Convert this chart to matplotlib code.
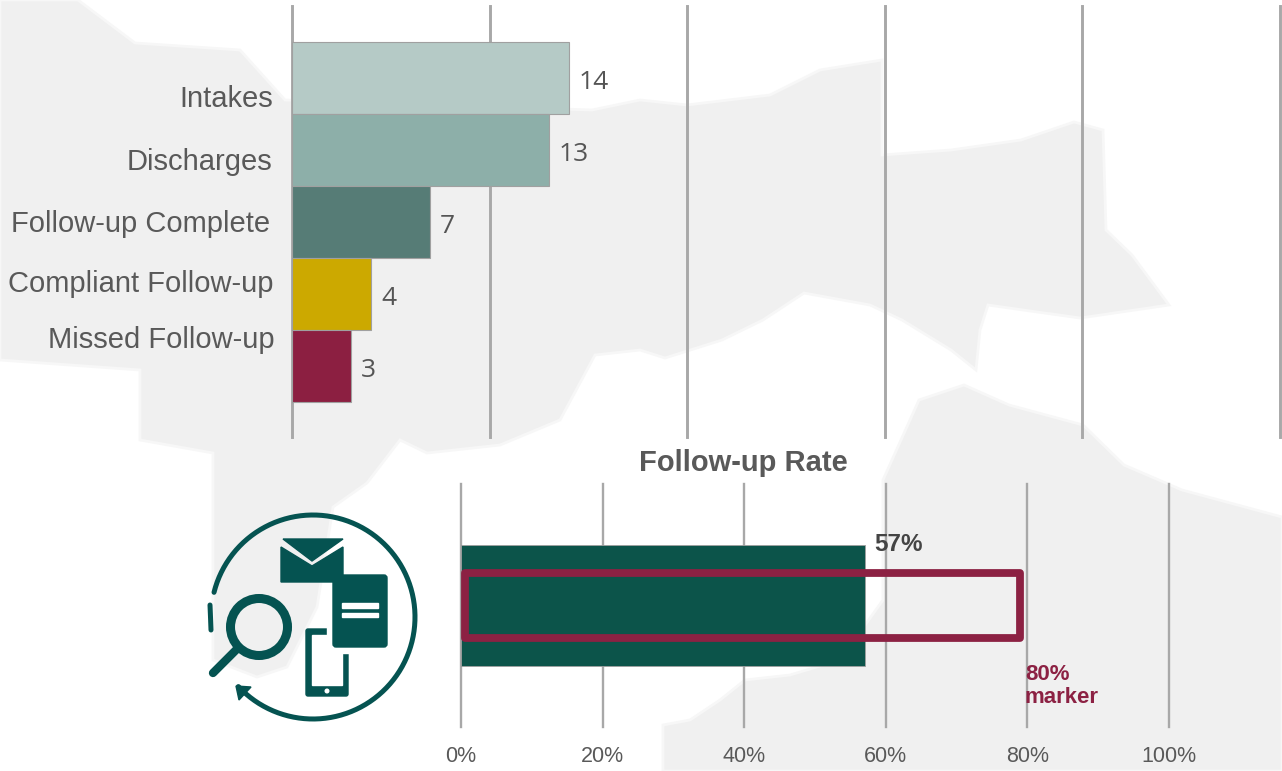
import numpy as np
import matplotlib
matplotlib.use('Agg')
import matplotlib.pyplot as plt
from matplotlib.patches import Circle, Rectangle, FancyBboxPatch, Polygon

W, H = 1282, 771

# Top chart data
categories = ['Intakes', 'Discharges', 'Follow-up Complete', 'Compliant Follow-up', 'Missed Follow-up']
counts = [14, 13, 7, 4, 3]
bar_colors = ['#b5cac6', '#8dafa9', '#567c76', '#cca900', '#8c1f41']

# Bottom chart data
rate = 57
target = 80
rate_ticks = [0, 20, 40, 60, 80, 100]

# Map shapes in the background, pixel coordinates
map_shapes = [
    [(0, 0), (78, 0), (135, 43), (240, 50), (285, 100), (592, 110), (640, 100), (687, 105), (770, 95),
     (820, 70), (882, 60), (882, 155), (951, 150), (1021, 140), (1074, 122), (1103, 130), (1106, 230),
     (1132, 255), (1169, 305), (1080, 318), (988, 305), (980, 330), (976, 370), (951, 350), (902, 320),
     (870, 305), (804, 293), (763, 320), (722, 340), (665, 358), (640, 350), (595, 355), (560, 420),
     (500, 445), (427, 453), (400, 440), (367, 483), (333, 507), (317, 607), (287, 667), (257, 677),
     (213, 660), (213, 453), (140, 440), (140, 370), (0, 360)],
    [(663, 771), (663, 725), (690, 720), (720, 700), (745, 680), (790, 675), (840, 660), (883, 600),
     (883, 480), (919, 400), (964, 385), (1009, 405), (1083, 425), (1124, 465), (1182, 490), (1282, 517),
     (1282, 771)],
]

fig = plt.figure(figsize=(W / 100, H / 100), dpi=100)
plt.rcParams['font.family'] = ['Liberation Sans']
GREY = '#595959'
MAROON = '#8c2143'


def axes_px(left, top, right, bottom, **kw):
    return fig.add_axes([left / W, 1 - bottom / H, (right - left) / W, (bottom - top) / H], **kw)


def pixel_layer(label):
    layer = axes_px(0, 0, W, H, label=label)
    layer.set_xlim(0, W)
    layer.set_ylim(H, 0)
    layer.axis('off')
    return layer


# Background layer
bg = pixel_layer('bg')
for shape in map_shapes:
    bg.add_patch(Polygon(shape, closed=True, facecolor='#f0f0f0', edgecolor='#f7f7f7', lw=2))

# Top bar chart
ax = axes_px(292, 6, 1280, 437)
ax.patch.set_alpha(0)
ax.set_xlim(0, 50)
ax.set_ylim(4.99, -1)
ax.set_axisbelow(True)
ax.grid(axis='x', color='#a8a8a8', lw=2.1)
ax.set_xticks([0, 10, 20, 30, 40, 50])
ax.set_yticks([])
ax.tick_params(length=0, labelbottom=False)
for s in ax.spines.values():
    s.set_visible(False)
for line in ax.get_xgridlines():
    line.set_clip_on(False)
ax.barh(range(5), counts, height=1.0, color=bar_colors, edgecolor='#a0a0a0', lw=0.8)
for i, v in enumerate(counts):
    ax.text(v + 0.5, i + 0.06, str(v), family='Open Sans', fontsize=19, color='#555555', va='center', clip_on=False)

# Follow-up rate chart
ax2 = axes_px(461, 484, 1169, 727)
ax2.patch.set_alpha(0)
ax2.set_xlim(0, 100)
ax2.set_ylim(-1, 1)
ax2.set_axisbelow(True)
ax2.grid(axis='x', color='#a8a8a8', lw=1.7)
ax2.set_xticks(rate_ticks)
ax2.set_xticklabels([f'{t}%' for t in rate_ticks], fontsize=15.5, color=GREY)
ax2.set_yticks([])
ax2.tick_params(length=0, pad=14)
for s in ax2.spines.values():
    s.set_visible(False)
for line in ax2.get_xgridlines():
    line.set_clip_on(False)
ax2.barh(0, rate, height=1.0, color='#0c544a', edgecolor='#a0a0a0', lw=0.6)
ax2.barh(0.0, target - 1.55, left=0.55, height=0.527, facecolor='none', edgecolor=MAROON, lw=5.6, joinstyle='round')
ax2.text(rate + 1.4, 0.50, f'{rate}%', fontsize=17.5, fontweight='bold', color='#444444', va='center', clip_on=False)

# Text and icon on top, pixel coordinates
fg = pixel_layer('fg')

# Category labels sit a little off the bars
label_x = [273, 272, 270, 273, 275]
label_y = [99, 162, 224, 284, 340]
for name, lx, ly in zip(categories, label_x, label_y):
    fg.text(lx, ly, name, fontsize=21, color=GREY, ha='right', va='center')

fg.text(743, 463, 'Follow-up Rate', fontsize=21, fontweight='bold', color=GREY, ha='center', va='center')
fg.text(1025, 686, f'{target}%\nmarker', fontsize=16, fontweight='bold', color=MAROON, ha='left', va='center', linespacing=1.15)

# Icon
TEAL = '#055351'
angles = np.radians(np.arange(-137, 167))
fg.plot(313 + 102 * np.cos(angles), 617 - 102 * np.sin(angles), color=TEAL, lw=3.6, solid_capstyle='round', zorder=5)
fg.plot([210, 210.5, 211], [605, 617, 630], color=TEAL, lw=3.6, solid_capstyle='round', zorder=5)
fg.add_patch(Polygon([(236, 686), (251, 687), (239, 700)], color=TEAL, zorder=5))
# envelope
fg.add_patch(Polygon([(281, 547), (312, 566), (343, 547), (343, 582), (281, 582)], color=TEAL, zorder=5))
fg.add_patch(Polygon([(283, 539), (343, 539), (312, 561)], color=TEAL, zorder=5))
# document
fg.add_patch(FancyBboxPatch((333, 575), 54, 72, boxstyle='round,pad=0,rounding_size=3', color=TEAL, zorder=6))
fg.add_patch(Rectangle((342, 603), 36, 4.5, color='white', zorder=7))
fg.add_patch(Rectangle((342, 613), 36, 4, color='white', zorder=7))
# phone
fg.add_patch(FancyBboxPatch((306, 629), 42, 67, boxstyle='round,pad=0,rounding_size=2', color=TEAL, zorder=5))
fg.add_patch(Rectangle((312, 635), 30, 50, color='white', zorder=5.5))
fg.add_patch(Rectangle((327, 625), 22, 28, color='white', zorder=5.6))
fg.add_patch(Circle((327, 691), 1.8, color='white', zorder=7))
# magnifier
fg.add_patch(Circle((259, 627), 28.5, facecolor='none', edgecolor=TEAL, lw=6.5, zorder=6))
fg.plot([236, 213], [650, 673], color=TEAL, lw=6, solid_capstyle='round', zorder=6)

fig.savefig('out.png', dpi=100)
